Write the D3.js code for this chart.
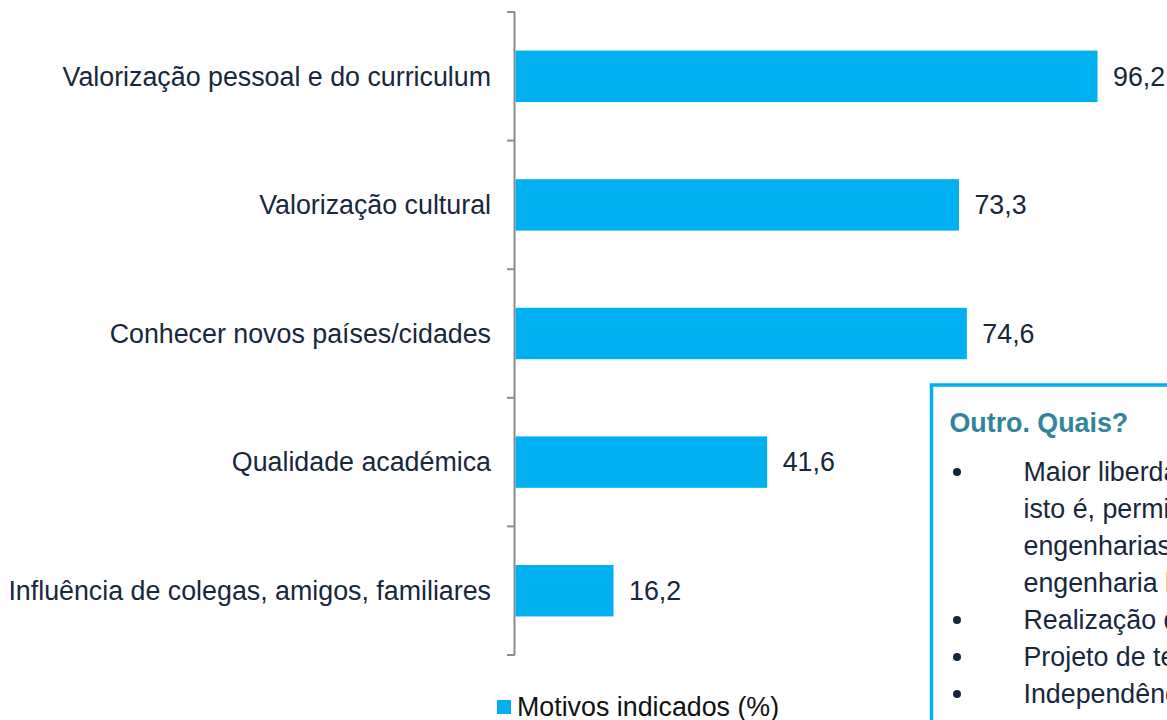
<!DOCTYPE html>
<html>
<head>
<meta charset="utf-8">
<script src="https://cdn.jsdelivr.net/npm/d3@7"></script>
<style>
  body { margin: 0; background: #fff; overflow: hidden; }
  svg { display: block; font-family: "Liberation Sans", Arial, sans-serif; }
</style>
</head>
<body>
<svg width="1167" height="720"></svg>
<script>
// chart data
const categories = [
    "Valorização pessoal e do curriculum",
    "Valorização cultural",
    "Conhecer novos países/cidades",
    "Qualidade académica",
    "Influência de colegas, amigos, familiares"
];
const values = [96.2, 73.3, 74.6, 41.6, 16.2];
const seriesName = "Motivos indicados (%)";

// text box contents
const boxTitle = "Outro. Quais?";
const boxItems = [
    ["Maior liberdade na escolha das disciplinas,",
     "isto é, permite frequentar disciplinas de outras",
     "engenharias, não disponíveis no curso de",
     "engenharia biomédica"],
    ["Realização do estágio curricular"],
    ["Projeto de tese no estrangeiro"],
    ["Independência"]
];

const svg = d3.select("svg");
const width = +svg.attr("width");
const height = +svg.attr("height");

const textColor = "#17273d";
const barColor = "#00b0f0";
const fontSize = 26.8;

const x = d3.scaleLinear().domain([0, 100]).range([515, 1120]);
const y = d3.scaleBand().domain(categories).range([12, 655]).padding(0);
const barH = y.bandwidth() * 0.4;

// axis line with ticks at band boundaries
const axisG = svg.append("g").attr("class", "axis");
axisG.append("line")
    .attr("x1", 514.5).attr("x2", 514.5)
    .attr("y1", 12).attr("y2", 655)
    .attr("stroke", "#8c8c8c").attr("stroke-width", 2);
const tickPos = categories.map(c => y(c)).concat([y.range()[1]]);
axisG.selectAll("line.tick")
    .data(tickPos)
    .enter()
    .append("line")
    .attr("class", "tick")
    .attr("x1", 507).attr("x2", 515)
    .attr("y1", d => d).attr("y2", d => d)
    .attr("stroke", "#8c8c8c").attr("stroke-width", 2);

// bars
const data = categories.map((c, i) => ({ cat: c, value: values[i] }));
svg.append("g").selectAll("rect")
    .data(data)
    .enter()
    .append("rect")
    .attr("x", x(0) + 0.5)
    .attr("y", d => y(d.cat) + y.bandwidth() / 2 - barH / 2)
    .attr("width", d => x(d.value) - x(0))
    .attr("height", barH)
    .attr("fill", barColor);

// category labels
svg.append("g").selectAll("text")
    .data(data)
    .enter()
    .append("text")
    .attr("x", 491)
    .attr("y", d => y(d.cat) + y.bandwidth() / 2)
    .attr("dy", "0.35em")
    .attr("text-anchor", "end")
    .attr("font-size", fontSize)
    .attr("fill", textColor)
    .text(d => d.cat);

// value labels
svg.append("g").selectAll("text")
    .data(data)
    .enter()
    .append("text")
    .attr("x", d => x(d.value) + 16)
    .attr("y", d => y(d.cat) + y.bandwidth() / 2)
    .attr("dy", "0.35em")
    .attr("font-size", fontSize)
    .attr("fill", textColor)
    .text(d => d3.format(".1f")(d.value).replace(".", ","));

// legend
const legend = svg.append("g").attr("transform", "translate(497,707)");
legend.append("rect")
    .attr("x", 0).attr("y", -7)
    .attr("width", 14).attr("height", 14)
    .attr("fill", barColor);
legend.append("text")
    .attr("x", 20).attr("y", 0)
    .attr("dy", "0.35em")
    .attr("font-size", fontSize)
    .attr("fill", "#111")
    .text(seriesName);

// "Outro. Quais?" text box
const box = svg.append("g").attr("transform", "translate(931.5,385)");
box.append("rect")
    .attr("x", 0).attr("y", 0)
    .attr("width", 400).attr("height", 400)
    .attr("fill", "#fff")
    .attr("stroke", barColor)
    .attr("stroke-width", 3.5);
box.append("text")
    .attr("x", 18).attr("y", 38)
    .attr("dy", "0.35em")
    .attr("font-size", fontSize)
    .attr("font-weight", "bold")
    .attr("fill", "#31849b")
    .text(boxTitle);

const lineH = 37;
let lineIdx = 0;
boxItems.forEach(item => {
    const yy = 87 + lineIdx * lineH;
    box.append("circle")
        .attr("cx", 25.5).attr("cy", yy)
        .attr("r", 4)
        .attr("fill", textColor);
    item.forEach((ln, j) => {
        box.append("text")
            .attr("x", 92)
            .attr("y", 87 + (lineIdx + j) * lineH)
            .attr("dy", "0.35em")
            .attr("font-size", fontSize)
            .attr("fill", textColor)
            .text(ln);
    });
    lineIdx += item.length;
});
</script>
</body>
</html>
